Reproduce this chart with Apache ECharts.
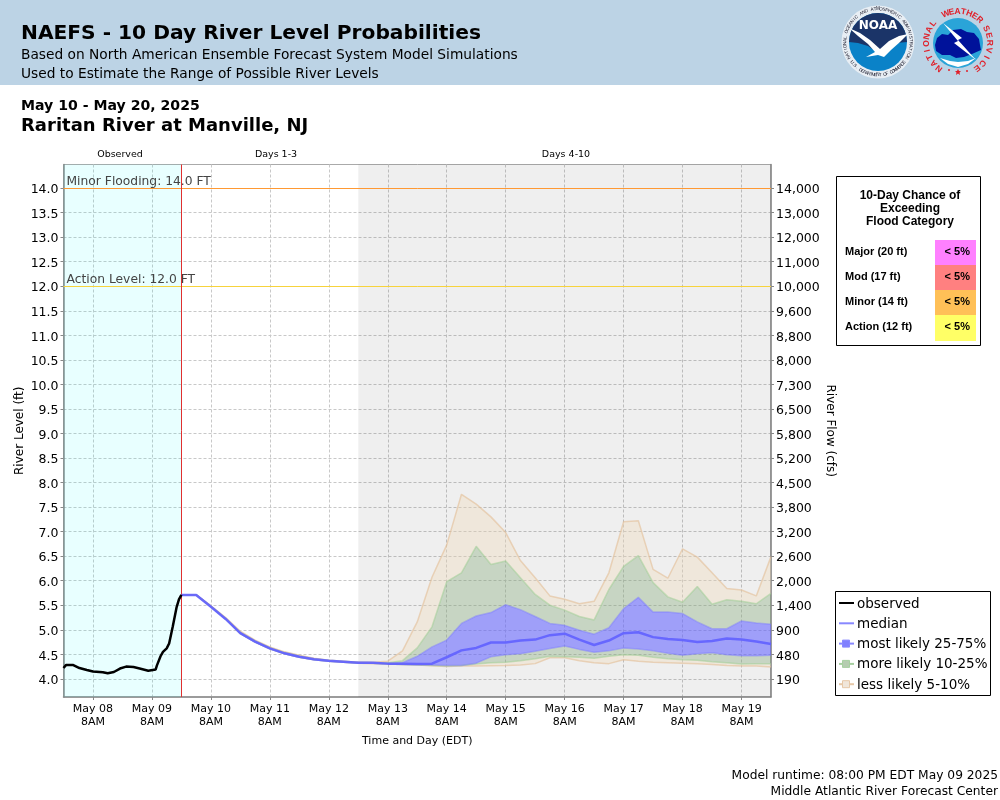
<!DOCTYPE html>
<html>
<head>
<meta charset="utf-8">
<title>NAEFS River Level Probabilities</title>
<script src="https://cdn.jsdelivr.net/npm/echarts@6/dist/echarts.min.js"></script>
<style>
  html, body { margin: 0; padding: 0; background: #fff; }
  #chart { width: 1000px; height: 800px; }
</style>
</head>
<body>
<div id="chart"></div>
<script>
// river level ticks and the matching flow labels on the right axis
const levelTicks = [4, 4.5, 5, 5.5, 6, 6.5, 7, 7.5, 8, 8.5, 9, 9.5, 10, 10.5, 11, 11.5, 12, 12.5, 13, 13.5, 14];
const flowLabels = ['190', '480', '900', '1,400', '2,000', '2,600', '3,200', '3,800', '4,500', '5,200', '5,800',
  '6,500', '7,300', '8,000', '8,800', '9,600', '10,000', '11,000', '12,000', '13,000', '14,000'];
// x axis runs in hours after May 7 8PM
const dayHours = [12, 36, 60, 84, 108, 132, 156, 180, 204, 228, 252, 276];
const dayLabels = ['May 08\n8AM', 'May 09\n8AM', 'May 10\n8AM', 'May 11\n8AM', 'May 12\n8AM', 'May 13\n8AM',
  'May 14\n8AM', 'May 15\n8AM', 'May 16\n8AM', 'May 17\n8AM', 'May 18\n8AM', 'May 19\n8AM'];

// observed stage
const obsHours = [0, 1, 4, 6.5, 9.5, 12, 16, 18, 20.5, 23, 25.5, 28.5, 31, 34.5, 37.5, 38, 39.5, 40.5, 42, 43, 44.5, 46, 47, 48];
const observed = [4.22, 4.28, 4.28, 4.22, 4.18, 4.15, 4.135, 4.115, 4.14, 4.21, 4.25, 4.24, 4.21, 4.165, 4.19, 4.27,
  4.46, 4.55, 4.62, 4.72, 5.07, 5.45, 5.62, 5.71];

// ensemble percentiles, every 6 hours from May 9 8PM
const p5 = [5.71, 5.71, 5.47, 5.22, 4.92, 4.75, 4.61, 4.51, 4.44, 4.39, 4.36, 4.34, 4.32, 4.31, 4.30, 4.29, 4.28, 4.265, 4.25, 4.26, 4.26,
  4.265, 4.27, 4.28, 4.31, 4.43, 4.43, 4.37, 4.33, 4.31, 4.39, 4.36, 4.34, 4.33, 4.32, 4.31, 4.29, 4.27, 4.26, 4.26, 4.24];
const p10 = [5.71, 5.71, 5.47, 5.22, 4.92, 4.75, 4.61, 4.51, 4.44, 4.39, 4.36, 4.34, 4.32, 4.32, 4.30, 4.29, 4.28, 4.27, 4.26, 4.27, 4.30,
  4.33, 4.34, 4.37, 4.41, 4.46, 4.45, 4.44, 4.42, 4.46, 4.49, 4.48, 4.44, 4.41, 4.39, 4.38, 4.35, 4.33, 4.30, 4.31, 4.31];
const p25 = [5.71, 5.71, 5.47, 5.22, 4.92, 4.75, 4.61, 4.51, 4.44, 4.39, 4.36, 4.34, 4.33, 4.32, 4.30, 4.29, 4.29, 4.28, 4.27, 4.27, 4.32,
  4.45, 4.49, 4.51, 4.56, 4.62, 4.67, 4.60, 4.54, 4.57, 4.63, 4.61, 4.57, 4.52, 4.48, 4.51, 4.53, 4.49, 4.47, 4.47, 4.48];
const p50 = [5.71, 5.71, 5.47, 5.22, 4.93, 4.76, 4.62, 4.52, 4.45, 4.40, 4.37, 4.35, 4.33, 4.33, 4.31, 4.31, 4.30, 4.31, 4.44, 4.58, 4.63,
  4.74, 4.74, 4.78, 4.80, 4.89, 4.92, 4.80, 4.69, 4.78, 4.93, 4.95, 4.85, 4.81, 4.79, 4.75, 4.77, 4.82, 4.80, 4.76, 4.71];
const p75 = [5.71, 5.71, 5.48, 5.23, 4.94, 4.77, 4.63, 4.53, 4.46, 4.41, 4.37, 4.35, 4.34, 4.33, 4.32, 4.33, 4.46, 4.65, 4.79, 5.13, 5.28,
  5.35, 5.51, 5.41, 5.27, 5.13, 5.09, 4.99, 4.91, 5.04, 5.43, 5.66, 5.36, 5.36, 5.33, 5.16, 5.02, 5.02, 5.18, 5.14, 5.11];
const p90 = [5.71, 5.71, 5.48, 5.24, 4.95, 4.78, 4.64, 4.54, 4.47, 4.41, 4.38, 4.36, 4.34, 4.33, 4.33, 4.37, 4.63, 5.06, 5.98, 6.16, 6.70,
  6.33, 6.40, 6.06, 5.72, 5.50, 5.40, 5.27, 5.20, 5.82, 6.29, 6.51, 5.96, 5.67, 5.56, 5.88, 5.52, 5.61, 5.58, 5.53, 5.74];
const p95 = [5.71, 5.71, 5.49, 5.25, 4.97, 4.79, 4.65, 4.55, 4.48, 4.42, 4.38, 4.36, 4.34, 4.34, 4.36, 4.57, 5.16, 6.07, 6.73, 7.76, 7.56,
  7.30, 6.98, 6.41, 6.06, 5.69, 5.62, 5.53, 5.58, 6.16, 7.20, 7.22, 6.23, 6.05, 6.65, 6.48, 6.16, 5.84, 5.81, 5.69, 6.49];

// flood table
const floodNames = ['Major (20 ft)', 'Mod (17 ft)', 'Minor (14 ft)', 'Action (12 ft)'];
const floodChances = ['< 5%', '< 5%', '< 5%', '< 5%'];
const floodColors = ['#ff80ff', '#ff8080', '#ffc057', '#ffff66'];

const legendNames = ['observed', 'median', 'most likely 25-75%', 'more likely 10-25%', 'less likely 5-10%'];

const FONT = '"DejaVu Sans"';
const ARIAL = '"Liberation Sans"';
const TAN_LINE = 'rgba(226,190,150,0.6)', TAN_FILL = 'rgba(240,220,190,0.4)';
const GREEN_LINE = 'rgba(160,205,150,0.55)', GREEN_FILL = 'rgba(140,176,130,0.4)';
const BLUE_LINE = 'rgba(120,120,255,0.45)', BLUE_FILL = 'rgba(105,105,255,0.6)';

const OBS_END = 48, DAYS13_END = 120, X_MAX = 288;

const fcstHour = i => OBS_END + i * 6;
const line = vals => vals.map((v, i) => [fcstHour(i), v]);

// filled band between two percentile lines, one polygon through the axis scales
function bandFill(name, hi, lo, fill) {
  return {
    name: name,
    type: 'custom',
    silent: true,
    clip: true,
    data: [[fcstHour(0), hi[0]]],
    renderItem: function (params, api) {
      const top = hi.map((v, i) => api.coord([fcstHour(i), v]));
      const bottom = lo.map((v, i) => api.coord([fcstHour(i), v])).reverse();
      return { type: 'polygon', shape: { points: top.concat(bottom) }, style: { fill: fill } };
    },
    z: 2
  };
}
function edgeLine(name, vals, color) {
  return {
    name: name,
    type: 'line',
    symbol: 'none',
    silent: true,
    data: line(vals),
    lineStyle: { color: color, width: 1.5 },
    z: 3
  };
}

const series = [
  {
    name: 'periods',
    type: 'line',
    symbol: 'none',
    silent: true,
    data: [],
    // shaded periods and thresholds
    markArea: {
      silent: true,
      data: [
        [{ xAxis: 0, itemStyle: { color: 'rgba(0,255,255,0.09)' } }, { xAxis: OBS_END }],
        [{ xAxis: DAYS13_END, itemStyle: { color: 'rgba(0,0,0,0.063)' } }, { xAxis: X_MAX }]
      ]
    },
    markLine: {
      silent: true,
      symbol: 'none',
      animation: false,
      data: [
        {
          yAxis: 14,
          lineStyle: { color: '#ff9933', width: 1, type: 'solid' },
          label: { formatter: 'Minor Flooding: 14.0 FT', position: 'insideStartTop', distance: [3, 0], color: '#444', fontFamily: FONT, fontSize: 12.3 }
        },
        {
          yAxis: 12,
          lineStyle: { color: '#f7d33c', width: 1, type: 'solid' },
          label: { formatter: 'Action Level: 12.0 FT', position: 'insideStartTop', distance: [3, 0], color: '#444', fontFamily: FONT, fontSize: 12.3 }
        },
        {
          xAxis: OBS_END,
          lineStyle: { color: '#e03030', width: 1, type: 'solid' },
          label: { show: false }
        }
      ]
    }
  },
  bandFill('less likely low', p10, p5, TAN_FILL),
  bandFill('more likely low', p25, p10, GREEN_FILL),
  bandFill('most likely', p75, p25, BLUE_FILL),
  bandFill('more likely high', p90, p75, GREEN_FILL),
  bandFill('less likely high', p95, p90, TAN_FILL),
  edgeLine('p5', p5, TAN_LINE),
  edgeLine('p10', p10, GREEN_LINE),
  edgeLine('p25', p25, BLUE_LINE),
  edgeLine('p75', p75, BLUE_LINE),
  edgeLine('p90', p90, GREEN_LINE),
  edgeLine('p95', p95, TAN_LINE),
  {
    name: 'median',
    type: 'line',
    symbol: 'none',
    silent: true,
    data: line(p50),
    lineStyle: { color: 'rgba(96,96,255,0.9)', width: 2.5 },
    z: 5
  },
  {
    name: 'observed',
    type: 'line',
    symbol: 'none',
    silent: true,
    data: obsHours.map((h, i) => [h, observed[i]]),
    lineStyle: { color: '#000', width: 2.5 },
    z: 6
  }
];

// ---- page furniture ----
function txt(x, y, text, size, opts) {
  opts = opts || {};
  return {
    type: 'text',
    x: x,
    y: y,
    silent: true,
    style: {
      text: text,
      fill: opts.color || '#000',
      font: (opts.bold ? 'bold ' : '') + size + 'px ' + (opts.family || FONT),
      textAlign: opts.align || 'left',
      textVerticalAlign: 'middle'
    },
    z: opts.z || 10
  };
}
function rect(x, y, w, h, fill, stroke, lw) {
  return {
    type: 'rect',
    silent: true,
    shape: { x: x, y: y, width: w, height: h },
    style: { fill: fill, stroke: stroke || null, lineWidth: lw || 0 },
    z: 9
  };
}
function circle(cx, cy, r, fill) {
  return { type: 'circle', silent: true, shape: { cx: cx, cy: cy, r: r }, style: { fill: fill }, z: 10 };
}
function poly(points, fill, z) {
  return { type: 'polygon', silent: true, shape: { points: points }, style: { fill: fill }, z: z || 11 };
}
// letters set round a circle, angles clockwise from the top
function ringText(text, cx, cy, r, from, to, size, color, bold, flip) {
  const out = [];
  const n = text.length;
  for (let i = 0; i < n; i++) {
    const a = (from + (to - from) * i / (n - 1)) * Math.PI / 180;
    out.push({
      type: 'text',
      silent: true,
      x: cx + r * Math.sin(a),
      y: cy - r * Math.cos(a),
      rotation: flip ? Math.PI - a : -a,
      style: {
        text: text[i], fill: color, textAlign: 'center', textVerticalAlign: 'middle',
        font: (bold ? 'bold ' : '') + size + 'px ' + ARIAL
      },
      z: 12
    });
  }
  return out;
}

const graphics = [
  rect(0, 0, 1000, 85, '#bcd3e5'),
  txt(21, 34, 'NAEFS - 10 Day River Level Probabilities', 20.2, { bold: true }),
  txt(21, 55, 'Based on North American Ensemble Forecast System Model Simulations', 13.75),
  txt(21, 74, 'Used to Estimate the Range of Possible River Levels', 13.75),
  txt(21, 106, 'May 10 - May 20, 2025', 14.1, { bold: true }),
  txt(21, 126, 'Raritan River at Manville, NJ', 18, { bold: true }),
  txt(120, 154.5, 'Observed', 9.5, { align: 'center' }),
  txt(276, 154.5, 'Days 1-3', 9.5, { align: 'center' }),
  txt(566, 154.5, 'Days 4-10', 9.5, { align: 'center' }),
  txt(998, 776, 'Model runtime: 08:00 PM EDT May 09 2025', 12.25, { align: 'right' }),
  txt(998, 792, 'Middle Atlantic River Forecast Center', 12.25, { align: 'right' }),

  // NOAA logo
  circle(878, 42, 36.5, '#e8eef4'),
  circle(878, 42, 29, '#0a82c8'),
  { type: 'sector', silent: true, shape: { cx: 878, cy: 42, r: 29, r0: 0, startAngle: Math.PI, endAngle: 2 * Math.PI }, style: { fill: '#1b3468' }, z: 11 },
  poly([[849, 42], [907, 42], [896, 43], [885, 48], [878, 53], [868, 46], [858, 43]], '#1b3468', 11),
  poly([[849, 28], [860, 33], [870, 40], [880, 49], [889, 41], [899, 36], [908, 34], [900, 42], [891, 50], [884, 57], [878, 55], [866, 57], [875, 52], [868, 44], [858, 36]], '#fff', 12),
  txt(878, 26, 'NOAA', 12, { bold: true, color: '#fff', align: 'center', z: 13 })
];
graphics.push.apply(graphics, ringText('NATIONAL OCEANIC AND ATMOSPHERIC ADMINISTRATION', 878, 42, 33, -118, 118, 4.6, '#223', false, false));
graphics.push.apply(graphics, ringText('U.S. DEPARTMENT OF COMMERCE', 878, 42, 33, 232, 128, 4.6, '#223', false, true));
// NWS logo
graphics.push(
  circle(958, 43, 25, '#2aa4d8'),
  poly([[935, 45], [937, 38], [942, 34], [948, 35], [953, 30], [961, 29], [967, 32], [974, 33], [979, 39], [980, 45], [981, 50], [972, 54], [964, 57], [956, 58], [950, 55], [942, 55], [936, 51]], '#00129a', 11),
  poly([[940, 58], [950, 61], [958, 62], [968, 61], [976, 58], [968, 64], [958, 67], [948, 64]], '#fff', 11),
  poly([[943, 23], [962, 38], [958, 40], [976, 60], [954, 43], [958, 41]], '#fff', 12),
  poly([[958, 69], [959, 71], [961, 71], [959.5, 72.5], [960, 75], [958, 73.5], [956, 75], [956.5, 72.5], [955, 71], [957, 71]], '#e0202a', 12),
  circle(949, 70, 1, '#e0202a'),
  circle(967, 71, 1, '#e0202a')
);
graphics.push.apply(graphics, ringText('NATIONAL', 958, 43, 31.5, -143, -52, 8.5, '#e0202a', true, false));
graphics.push.apply(graphics, ringText('WEATHER', 958, 43, 31.5, -23, 43, 8.5, '#e0202a', true, false));
graphics.push.apply(graphics, ringText('SERVICE', 958, 43, 31.5, 63, 143, 8.5, '#e0202a', true, false));

// flood category table
graphics.push(
  rect(836.5, 176.5, 144, 169, '#fff', '#000', 1),
  txt(910, 196, '10-Day Chance of', 12, { bold: true, family: ARIAL, align: 'center' }),
  txt(910, 209, 'Exceeding', 12, { bold: true, family: ARIAL, align: 'center' }),
  txt(910, 222, 'Flood Category', 12, { bold: true, family: ARIAL, align: 'center' })
);
floodNames.forEach((name, i) => {
  const top = 240 + i * 25;
  graphics.push(
    rect(935, top, 41, i === 3 ? 26 : 25, floodColors[i]),
    txt(845, top + 12, name, 11, { bold: true, family: ARIAL }),
    txt(970, top + 12, floodChances[i], 11, { bold: true, family: ARIAL, align: 'right' })
  );
});

// legend box
graphics.push(rect(835.5, 591.5, 155, 104, '#fff', '#000', 1));
const legendLines = ['#000', '#8888ff', '#8888ff', '#a6cfa0', '#e6c8a8'];
const legendBoxes = [null, null, '#8080ff', '#b5ccb0', '#f0e6da'];
legendNames.forEach((name, i) => {
  const y = 603 + i * 20.3;
  graphics.push({
    type: 'line', silent: true,
    shape: { x1: 839, y1: y, x2: 854, y2: y },
    style: { stroke: legendLines[i], lineWidth: 2 }, z: 10
  });
  if (legendBoxes[i]) {
    graphics.push({
      type: 'rect', silent: true,
      shape: { x: 842.5, y: y - 3.5, width: 7, height: 7 },
      style: { fill: legendBoxes[i], stroke: legendLines[i], lineWidth: 1 }, z: 11
    });
  }
  graphics.push(txt(857, y + 1, name, 13.5));
});

const chart = echarts.init(document.getElementById('chart'), null, { renderer: 'canvas' });
const splitStyle = { show: true, lineStyle: { color: '#c8c8c8', type: [3, 2], width: 1 } };
// rich text so the tick labels can sit a touch lower, level with their gridlines
const tickRich = { v: { padding: [4, 0, 0, 0], fontFamily: FONT, fontSize: 12.5, color: '#000' } };
chart.setOption({
  animation: false,
  backgroundColor: '#fff',
  grid: {
    left: 63.5,
    right: 229,
    top: 164.5,
    bottom: 103,
    outerBoundsMode: 'none',
    show: true,
    backgroundColor: 'transparent',
    borderColor: '#aaaaaa',
    borderWidth: 1
  },
  xAxis: {
    type: 'value',
    min: 0,
    max: X_MAX,
    name: 'Time and Day (EDT)',
    nameLocation: 'middle',
    nameGap: 39,
    nameTextStyle: { fontFamily: FONT, fontSize: 11, color: '#000' },
    axisLine: { show: true, lineStyle: { color: '#888', width: 1.5 } },
    axisTick: { show: true, length: 3, customValues: dayHours, lineStyle: { color: '#888' } },
    axisLabel: {
      customValues: dayHours,
      hideOverlap: false,
      margin: 6,
      color: '#000',
      fontFamily: FONT,
      fontSize: 11,
      lineHeight: 13,
      formatter: v => dayLabels[dayHours.indexOf(v)]
    },
    splitLine: splitStyle
  },
  yAxis: [
    {
      type: 'value',
      min: 3.63,
      max: 14.48,
      name: 'River Level (ft)',
      nameLocation: 'middle',
      nameGap: 38,
      nameMoveOverlap: false,
      nameTextStyle: { fontFamily: FONT, fontSize: 12, color: '#000' },
      axisLine: { show: true, lineStyle: { color: '#888', width: 1.5 } },
      axisTick: { show: true, length: 3, customValues: levelTicks, lineStyle: { color: '#888' } },
      axisLabel: {
        customValues: levelTicks,
        margin: 5,
        rich: tickRich,
        formatter: v => '{v|' + v.toFixed(1) + '}'
      },
      splitLine: splitStyle
    },
    {
      type: 'value',
      min: 3.63,
      max: 14.48,
      position: 'right',
      name: 'River Flow (cfs)',
      nameLocation: 'middle',
      nameRotate: -90,
      nameGap: 53,
      nameMoveOverlap: false,
      nameTextStyle: { fontFamily: FONT, fontSize: 12, color: '#000' },
      axisLine: { show: true, lineStyle: { color: '#888', width: 1.5 } },
      axisTick: { show: true, length: 3, customValues: levelTicks, lineStyle: { color: '#888' } },
      axisLabel: {
        customValues: levelTicks,
        margin: 5,
        rich: tickRich,
        formatter: v => '{v|' + flowLabels[levelTicks.indexOf(v)] + '}'
      },
      splitLine: { show: false }
    }
  ],
  series: series,
  graphic: graphics
});
</script>
</body>
</html>
